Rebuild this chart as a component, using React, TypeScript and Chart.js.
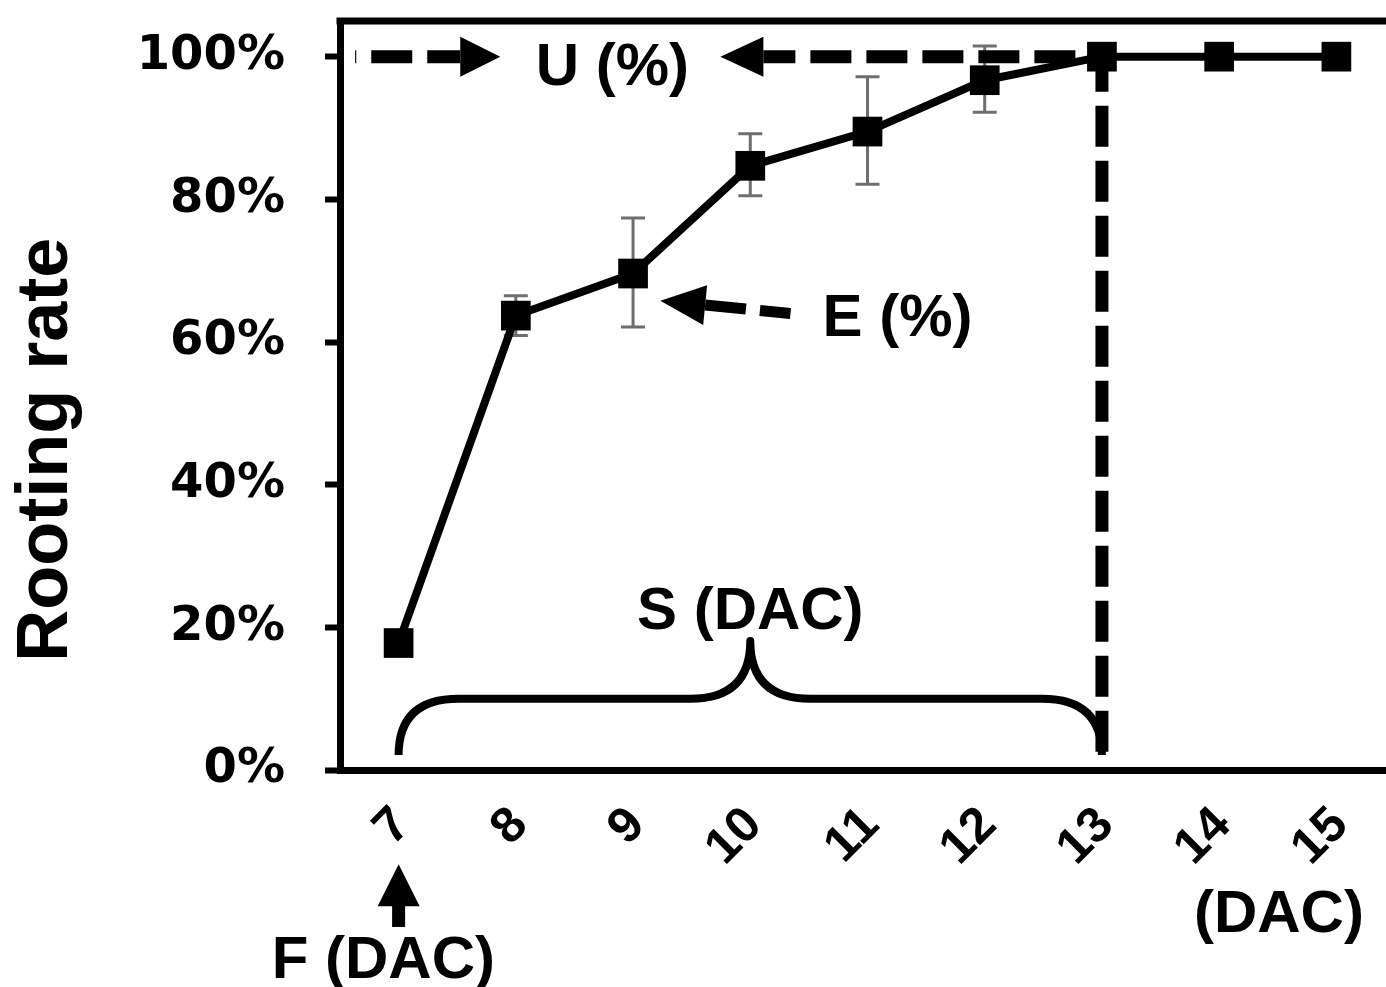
import React, { useEffect, useRef } from "react";
import { Chart, registerables } from "chart.js";

Chart.register(...registerables);

// ---- data ----
const days = ["7", "8", "9", "10", "11", "12", "13", "14", "15"];
const rootingRate = [17.8, 63.7, 69.6, 84.7, 89.5, 96.7, 100, 100, 100];
const errorLow = [null, 60.9, 62.1, 80.5, 82.1, 92.2, null, null, null];
const errorHigh = [null, 66.5, 77.4, 89.2, 97.2, 101.5, null, null, null];
const yTickValues = [0, 20, 40, 60, 80, 100];

const yTitle = "Rooting rate";

const ARIAL = '"Liberation Sans", Arial, Helvetica, sans-serif';
const WIDE = '"DejaVu Sans", Verdana, sans-serif';

const CANVAS_W = 1416;

function dashedArrow(
  ctx: CanvasRenderingContext2D,
  tx: number, ty: number, hx: number, hy: number,
  width: number, headLen: number, headHalf: number,
  dash: number[], dashOffset: number
) {
  const dx = hx - tx, dy = hy - ty;
  const len = Math.hypot(dx, dy);
  const ux = dx / len, uy = dy / len;
  const bx = hx - ux * headLen, by = hy - uy * headLen;
  ctx.save();
  ctx.strokeStyle = "#000";
  ctx.fillStyle = "#000";
  ctx.lineWidth = width;
  ctx.lineCap = "butt";
  ctx.setLineDash(dash);
  ctx.lineDashOffset = dashOffset;
  ctx.beginPath();
  ctx.moveTo(bx, by);
  ctx.lineTo(tx, ty);
  ctx.stroke();
  ctx.setLineDash([]);
  ctx.beginPath();
  ctx.moveTo(hx, hy);
  ctx.lineTo(bx - uy * headHalf, by + ux * headHalf);
  ctx.lineTo(bx + uy * headHalf, by - ux * headHalf);
  ctx.closePath();
  ctx.fill();
  ctx.restore();
}

const annotationPlugin = {
  id: "annotations",
  beforeDatasetsDraw(chart: any) {
    const { ctx } = chart;
    const xs = chart.scales.x;
    const ys = chart.scales.y;
    ctx.save();
    ctx.strokeStyle = "#6e6e6e";
    ctx.lineWidth = 3;
    for (let i = 0; i < days.length; i++) {
      const lo = errorLow[i];
      const hi = errorHigh[i];
      if (lo == null || hi == null) continue;
      const x = xs.getPixelForValue(i);
      const y1 = ys.getPixelForValue(lo);
      const y2 = ys.getPixelForValue(hi);
      ctx.beginPath();
      ctx.moveTo(x, y1);
      ctx.lineTo(x, y2);
      ctx.moveTo(x - 12, y1);
      ctx.lineTo(x + 12, y1);
      ctx.moveTo(x - 12, y2);
      ctx.lineTo(x + 12, y2);
      ctx.stroke();
    }
    ctx.restore();
  },
  afterDraw(chart: any) {
    const { ctx, chartArea } = chart;
    const xs = chart.scales.x;
    const ys = chart.scales.y;
    const px = (i: number) => xs.getPixelForValue(i);
    const py = (v: number) => ys.getPixelForValue(v);

    // frame top & right
    ctx.save();
    ctx.strokeStyle = "#000";
    ctx.lineWidth = 7;
    ctx.beginPath();
    ctx.moveTo(chartArea.left - 3.5, chartArea.top);
    ctx.lineTo(chartArea.right, chartArea.top);
    ctx.lineTo(chartArea.right, chartArea.bottom);
    ctx.stroke();
    ctx.restore();

    // U (%) arrows
    dashedArrow(ctx, px(-0.371), py(100), px(0.867), py(100), 13, 40, 20, [41, 15], 8);
    dashedArrow(ctx, px(6), py(100), px(2.745), py(100), 13, 43, 20, [41, 15], 9);

    // vertical dashed line at 13
    ctx.save();
    ctx.strokeStyle = "#000";
    ctx.lineWidth = 13;
    ctx.setLineDash([41, 14]);
    ctx.lineDashOffset = 6;
    ctx.beginPath();
    ctx.moveTo(px(6), py(100));
    ctx.lineTo(px(6), py(1.8));
    ctx.stroke();
    ctx.restore();

    // E (%) arrow
    dashedArrow(ctx, px(3.343), py(64.0), px(2.233), py(65.8), 11, 45, 20, [41, 14], 0);

    // brace
    const x0 = px(0), x1 = px(6), xm = px(3);
    const yEnd = py(2.1), yH = py(10.0), yPeak = py(18.1);
    const r = 60;
    ctx.save();
    ctx.strokeStyle = "#000";
    ctx.lineWidth = 8;
    ctx.lineJoin = "round";
    ctx.beginPath();
    ctx.moveTo(x0, yEnd);
    ctx.quadraticCurveTo(x0, yH, x0 + r, yH);
    ctx.lineTo(xm - r, yH);
    ctx.quadraticCurveTo(xm, yH, xm, yPeak);
    ctx.quadraticCurveTo(xm, yH, xm + r, yH);
    ctx.lineTo(x1 - r, yH);
    ctx.quadraticCurveTo(x1, yH, x1, yEnd);
    ctx.stroke();
    ctx.restore();

    // F arrow (solid, pointing up)
    ctx.save();
    ctx.fillStyle = "#000";
    const fx = px(0);
    const tip = py(-13.2), base = py(-19.1), bottom = py(-22.0);
    ctx.beginPath();
    ctx.moveTo(fx, tip);
    ctx.lineTo(fx - 21, base);
    ctx.lineTo(fx + 21, base);
    ctx.closePath();
    ctx.fill();
    ctx.fillRect(fx - 6.5, base - 1, 13, bottom - base + 1);
    ctx.restore();

    // texts
    ctx.save();
    ctx.fillStyle = "#000";
    ctx.font = `bold 60px ${ARIAL}`;
    ctx.textBaseline = "alphabetic";
    ctx.textAlign = "center";
    ctx.fillText("U (%)", px(1.823), py(96.0));
    ctx.fillText("S (DAC)", px(3.0), py(19.8));
    ctx.fillText("F (DAC)", px(-0.13), py(-29.1));
    ctx.fillText("(DAC)", px(7.51), py(-22.7));
    ctx.textAlign = "left";
    ctx.fillText("E (%)", px(3.617), py(60.9));

    // y title
    ctx.font = `bold 72px ${ARIAL}`;
    ctx.textAlign = "center";
    ctx.translate(chartArea.left - 273, py(44.9));
    ctx.rotate(-Math.PI / 2);
    ctx.fillText(yTitle, 0, 0);
    ctx.restore();
  },
};

export default function App() {
  const ref = useRef<HTMLCanvasElement>(null);

  useEffect(() => {
    const canvas = ref.current;
    if (!canvas) return;
    const chart = new Chart(canvas, {
      type: "line",
      data: {
        labels: days,
        datasets: [
          {
            data: rootingRate,
            borderColor: "#000",
            backgroundColor: "#000",
            borderWidth: 8,
            pointStyle: "rect",
            pointRadius: 21,
            pointHoverRadius: 21,
            pointBackgroundColor: "#000",
            pointBorderWidth: 0,
            tension: 0,
            fill: false,
          },
        ],
      },
      options: {
        responsive: false,
        animation: false,
        devicePixelRatio: 1,
        events: [],
        layout: { padding: { left: 0, right: 6, top: 17, bottom: 0 } },
        plugins: {
          legend: { display: false },
          tooltip: { enabled: false },
          title: { display: false },
        },
        scales: {
          x: {
            type: "category",
            offset: true,
            grid: { display: false, drawTicks: false },
            border: { display: true, color: "#000", width: 7 },
            ticks: {
              autoSkip: false,
              minRotation: 45,
              maxRotation: 45,
              padding: 26,
              labelOffset: 4,
              color: "#000",
              font: { family: ARIAL, size: 50, weight: "bold" },
            },
            afterFit: (s: any) => {
              s.height = 217;
              s.paddingLeft = 0;
              s.paddingRight = 0;
            },
          },
          y: {
            type: "linear",
            min: 0,
            max: 105,
            afterBuildTicks: (s: any) => {
              s.ticks = yTickValues.map((v) => ({ value: v }));
            },
            grid: {
              drawOnChartArea: false,
              drawTicks: true,
              tickLength: 15,
              tickWidth: 6,
              tickColor: "#000",
            },
            border: { display: true, color: "#000", width: 7 },
            ticks: {
              padding: 40,
              color: "#000",
              font: { family: WIDE, size: 48, weight: "bold" },
              callback: (v: any) => `${v}%`,
            },
            afterFit: (s: any) => {
              s.width = 340;
              s.paddingTop = 0;
              s.paddingBottom = 0;
            },
          },
        },
      },
      plugins: [annotationPlugin],
    } as any);
    return () => chart.destroy();
  }, []);

  return (
    <div
      style={{
        position: "absolute",
        left: 0,
        top: 0,
        width: 1386,
        height: 987,
        overflow: "hidden",
        background: "#fff",
      }}
    >
      <canvas
        ref={ref}
        width={CANVAS_W}
        height={987}
        style={{ width: CANVAS_W, height: 987, display: "block" }}
      />
    </div>
  );
}
